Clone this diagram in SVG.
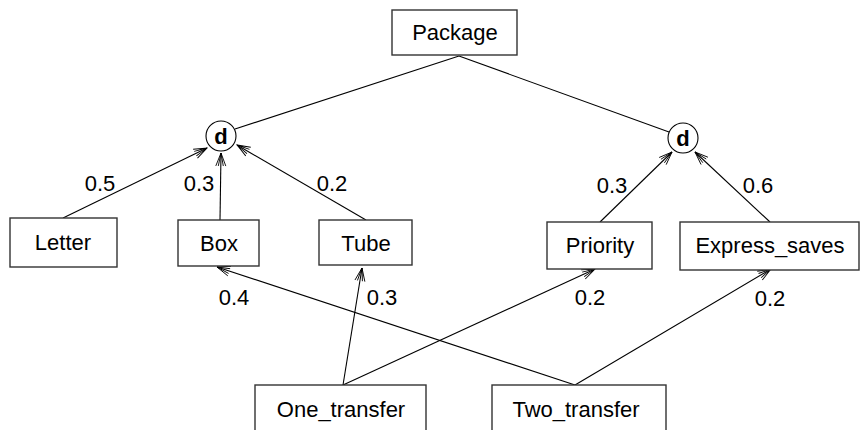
<svg xmlns="http://www.w3.org/2000/svg" width="860" height="430" viewBox="0 0 860 430">
<style>
.box{fill:#fff;stroke:#333;stroke-width:1.4}
.lbl{font-family:"Liberation Sans",Arial,sans-serif;font-size:22px;fill:#000;text-anchor:middle}
.d{font-family:"Liberation Sans",Arial,sans-serif;font-size:22px;font-weight:bold;fill:#000;text-anchor:middle}
.edge{stroke:#000;stroke-width:1.1;fill:none}
.arr{marker-end:url(#open)}
</style>
<defs>
<marker id="open" markerUnits="userSpaceOnUse" viewBox="-14 -6 15 12" refX="0" refY="0" markerWidth="15" markerHeight="12" orient="auto">
<path d="M-13,-5 L0,0 L-13,5 M-13,-2.5 L0,0 L-13,2.5" fill="none" stroke="#000" stroke-width="0.9"/>
</marker>
</defs>
<rect width="860" height="430" fill="#fff"/>
<g id="connectors">
<line class="edge" x1="459" y1="56" x2="235" y2="129"/>
<line class="edge" x1="459" y1="56" x2="669" y2="132"/>
<line class="edge arr" x1="63" y1="218" x2="207" y2="148"/>
<line class="edge arr" x1="220" y1="220" x2="221" y2="153"/>
<line class="edge arr" x1="366" y1="220" x2="237" y2="145"/>
<line class="edge arr" x1="600" y1="222" x2="672" y2="152"/>
<line class="edge arr" x1="770" y1="222" x2="695" y2="152"/>
<line class="edge arr" x1="343" y1="385" x2="362" y2="268"/>
<line class="edge arr" x1="343" y1="385" x2="595" y2="269"/>
<line class="edge arr" x1="575" y1="385" x2="217" y2="267"/>
<line class="edge arr" x1="575" y1="385" x2="771" y2="269"/>
<text class="lbl" x="100" y="191">0.5</text>
<text class="lbl" x="199" y="191">0.3</text>
<text class="lbl" x="332" y="191">0.2</text>
<text class="lbl" x="612" y="193">0.3</text>
<text class="lbl" x="758" y="193">0.6</text>
<text class="lbl" x="234" y="305">0.4</text>
<text class="lbl" x="382" y="305">0.3</text>
<text class="lbl" x="590" y="305">0.2</text>
<text class="lbl" x="770" y="306">0.2</text>
</g>
<g id="package"><rect class="box" x="392" y="10" width="125" height="45"/><text class="lbl" x="455" y="40">Package</text></g>
<g id="d1"><circle cx="221" cy="136" r="15" fill="#fff" stroke="#000" stroke-width="1.1"/><text class="d" x="221" y="144">d</text></g>
<g id="d2"><circle cx="683" cy="138" r="15" fill="#fff" stroke="#000" stroke-width="1.1"/><text class="d" x="683" y="146">d</text></g>
<g id="letter"><rect class="box" x="10" y="218" width="107" height="49"/><text class="lbl" x="63" y="250">Letter</text></g>
<g id="box"><rect class="box" x="178" y="220" width="81" height="46"/><text class="lbl" x="219" y="251">Box</text></g>
<g id="tube"><rect class="box" x="319" y="220" width="93" height="45"/><text class="lbl" x="366" y="251">Tube</text></g>
<g id="priority"><rect class="box" x="547" y="222" width="105" height="47"/><text class="lbl" x="600" y="253">Priority</text></g>
<g id="express"><rect class="box" x="680" y="222" width="179" height="48"/><text class="lbl" x="770" y="253">Express_saves</text></g>
<g id="one"><rect class="box" x="255" y="385" width="171" height="60"/><text class="lbl" x="341" y="417">One_transfer</text></g>
<g id="two"><rect class="box" x="492" y="385" width="174" height="60"/><text class="lbl" x="576" y="417">Two_transfer</text></g>
</svg>
